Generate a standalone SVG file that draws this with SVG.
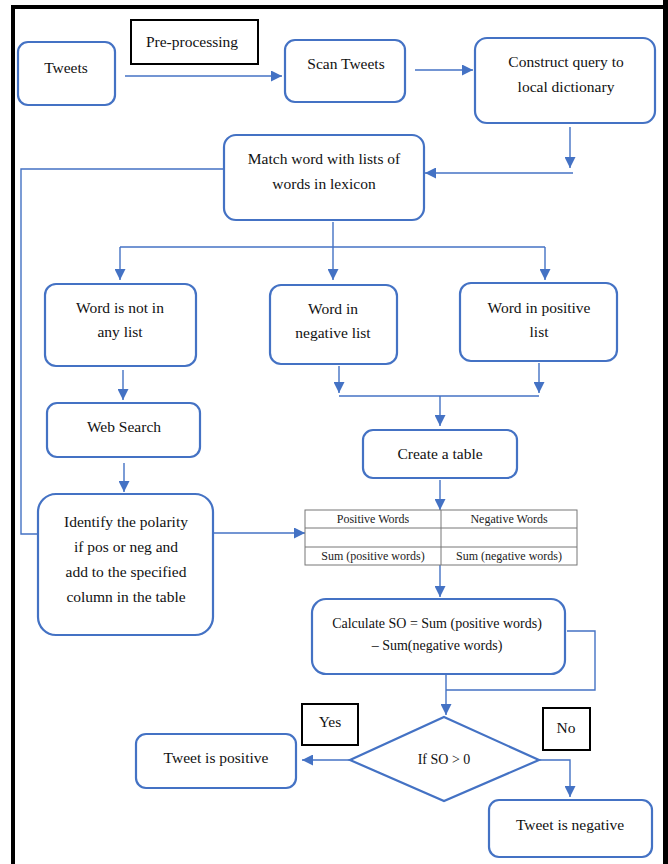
<svg xmlns="http://www.w3.org/2000/svg" width="668" height="864" viewBox="0 0 668 864">
<style>
.box{fill:#fff;stroke:#4472C4;stroke-width:2.2}
.lbl{fill:#fff;stroke:#000;stroke-width:2}
.t{font-family:"Liberation Serif","Times New Roman",serif;font-size:15.5px;fill:#111;text-anchor:middle}
.ts{font-family:"Liberation Serif","Times New Roman",serif;font-size:12px;fill:#222;text-anchor:middle}
.c{fill:none;stroke:#4472C4;stroke-width:1.4}
.tb{fill:none;stroke:#777;stroke-width:1}
</style>
<defs>
<marker id="ah" viewBox="0 0 10 10" refX="10" refY="5" markerWidth="11" markerHeight="11" markerUnits="userSpaceOnUse" orient="auto">
<path d="M0,0 L10,5 L0,10 z" fill="#4472C4"/>
</marker>
</defs>
<rect width="668" height="864" fill="#fff"/>
<g id="frame">
<rect x="11" y="5" width="657" height="4" fill="#000"/>
<rect x="11" y="5" width="4" height="859" fill="#000"/>
<rect x="663" y="0" width="5" height="864" fill="#000"/>
</g>
<g id="connectors">
<path class="c" d="M125,76 H282" marker-end="url(#ah)"/>
<path class="c" d="M415,70 H473" marker-end="url(#ah)"/>
<path class="c" d="M570,127 V168" marker-end="url(#ah)"/>
<path class="c" d="M573,173 H425" marker-end="url(#ah)"/>
<path class="c" d="M224,169 H21 V534 H38"/>
<path class="c" d="M333,222 V280" marker-end="url(#ah)"/>
<path class="c" d="M120,247 H545"/>
<path class="c" d="M120,247 V280" marker-end="url(#ah)"/>
<path class="c" d="M545,247 V280" marker-end="url(#ah)"/>
<path class="c" d="M123,370 V400" marker-end="url(#ah)"/>
<path class="c" d="M124,463 V492" marker-end="url(#ah)"/>
<path class="c" d="M213,533 H305" marker-end="url(#ah)"/>
<path class="c" d="M339,366 V393" marker-end="url(#ah)"/>
<path class="c" d="M539,363 V393" marker-end="url(#ah)"/>
<path class="c" d="M339,396 H539"/>
<path class="c" d="M440,396 V426" marker-end="url(#ah)"/>
<path class="c" d="M440,480 V510" marker-end="url(#ah)"/>
<path class="c" d="M440,565 V597" marker-end="url(#ah)"/>
<path class="c" d="M567,631 H595 V690 H446"/>
<path class="c" d="M446,675 V715" marker-end="url(#ah)"/>
<path class="c" d="M350,760 H302" marker-end="url(#ah)"/>
<path class="c" d="M539,760 H570 V797" marker-end="url(#ah)"/>
</g>
<g id="tweets"><rect class="box" x="18" y="42" width="97" height="63" rx="10"/><text class="t" x="66" y="73">Tweets</text></g>
<g id="preprocessing"><rect class="lbl" x="131" y="20" width="127" height="44"/><text class="t" x="192" y="47">Pre-processing</text></g>
<g id="scan"><rect class="box" x="285" y="40" width="120" height="62" rx="10"/><text class="t" x="346" y="69">Scan Tweets</text></g>
<g id="construct"><rect class="box" x="475" y="38" width="180" height="85" rx="12"/><text class="t" x="566" y="67">Construct query to</text><text class="t" x="566" y="92">local dictionary</text></g>
<g id="match"><rect class="box" x="224" y="135" width="200" height="85" rx="12"/><text class="t" x="324" y="164">Match word with lists of</text><text class="t" x="324" y="189">words in lexicon</text></g>
<g id="notinlist"><rect class="box" x="45" y="284" width="151" height="82" rx="11"/><text class="t" x="120" y="313">Word is not in</text><text class="t" x="120" y="337">any list</text></g>
<g id="negative"><rect class="box" x="270" y="285" width="127" height="79" rx="11"/><text class="t" x="333" y="314">Word in</text><text class="t" x="333" y="338">negative list</text></g>
<g id="positive"><rect class="box" x="460" y="283" width="157" height="78" rx="11"/><text class="t" x="539" y="313">Word in positive</text><text class="t" x="539" y="337">list</text></g>
<g id="websearch"><rect class="box" x="47" y="403" width="153" height="54" rx="10"/><text class="t" x="124" y="432">Web Search</text></g>
<g id="identify"><rect class="box" x="38" y="494" width="175" height="141" rx="18"/><text class="t" x="126" y="527">Identify the polarity</text><text class="t" x="126" y="552">if pos or neg and</text><text class="t" x="126" y="577">add to the specified</text><text class="t" x="126" y="602">column in the table</text></g>
<g id="createtable"><rect class="box" x="363" y="430" width="154" height="48" rx="10"/><text class="t" x="440" y="459">Create a table</text></g>
<g id="table">
<rect class="tb" x="305" y="510" width="272" height="55"/>
<path class="tb" d="M305,528 H577 M305,547 H577 M441,510 V565"/>
<text class="ts" x="373" y="523">Positive Words</text>
<text class="ts" x="509" y="523">Negative Words</text>
<text class="ts" x="373" y="560">Sum (positive words)</text>
<text class="ts" x="509" y="560">Sum (negative words)</text>
</g>
<g id="calculate"><rect class="box" x="312" y="599" width="253" height="75" rx="14"/><text class="ts" style="font-size:14px;fill:#111" x="437" y="628">Calculate SO = Sum (positive words)</text><text class="ts" style="font-size:14px;fill:#111" x="437" y="650">– Sum(negative words)</text></g>
<g id="decision"><path d="M444,717 L539,760 L444,801 L350,760 z" fill="#fff" stroke="#4472C4" stroke-width="2.2"/><text class="t" x="444" y="764" style="font-size:14px">If SO &gt; 0</text></g>
<g id="yes"><rect class="lbl" x="302" y="704" width="56" height="41"/><text class="t" x="330" y="727">Yes</text></g>
<g id="no"><rect class="lbl" x="543" y="708" width="47" height="42"/><text class="t" x="566" y="733">No</text></g>
<g id="tweetpositive"><rect class="box" x="136" y="734" width="160" height="54" rx="10"/><text class="t" x="216" y="763">Tweet is positive</text></g>
<g id="tweetnegative"><rect class="box" x="489" y="800" width="163" height="57" rx="10"/><text class="t" x="570" y="830">Tweet is negative</text></g>
</svg>
